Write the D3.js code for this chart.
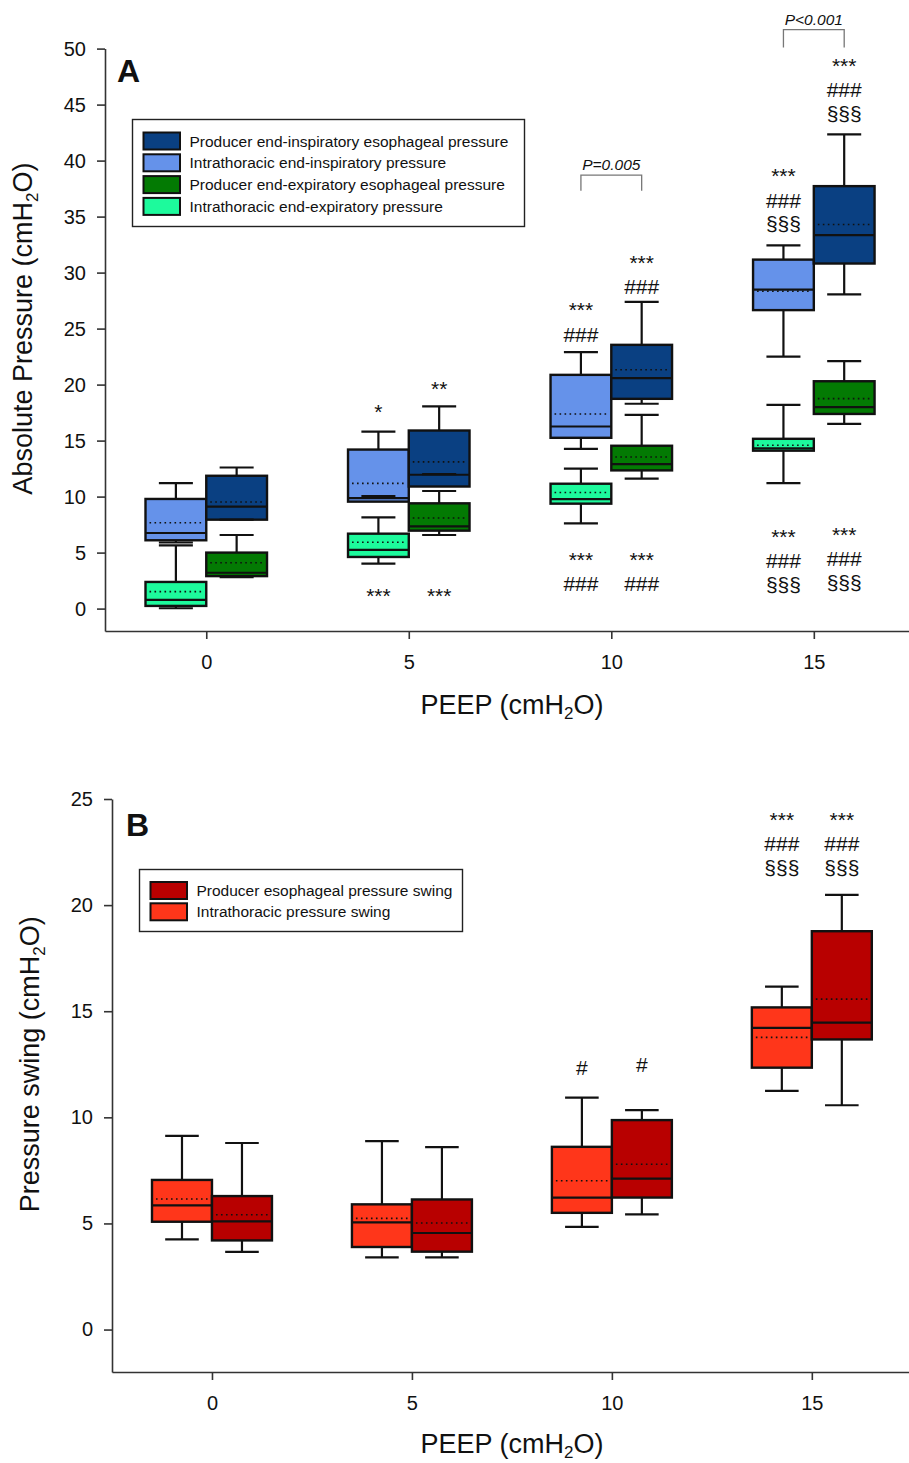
<!DOCTYPE html>
<html>
<head>
<meta charset="utf-8">
<script src="https://cdn.jsdelivr.net/npm/d3@7/dist/d3.min.js"></script>
<style>
body { margin: 0; background: #fff; }
svg text { font-family: "Liberation Sans", Arial, Helvetica, sans-serif; fill: #111; }
</style>
</head>
<body>
<svg id="chart" width="909" height="1463"></svg>
<script>
// values, cmH2O
// each entry: [low whisker, q1, median, q3, high whisker, mean]
var peep = [0, 5, 10, 15];

// panel A
var prodInsp  = [[7.95, 7.94, 9.10, 11.86, 12.60, 9.52],
                 [12.00, 10.90, 11.95, 15.90, 18.05, 13.10],
                 [18.29, 18.73, 20.58, 23.55, 27.39, 21.32],
                 [28.06, 30.81, 33.35, 37.72, 42.34, 34.30]];
var intraInsp = [[5.90, 6.10, 6.75, 9.79, 11.20, 7.67],
                 [10.05, 9.55, 9.87, 14.20, 15.80, 11.18],
                 [14.27, 15.25, 16.26, 20.87, 22.90, 17.37],
                 [22.49, 26.65, 28.48, 31.16, 32.43, 28.34]];
var prodExp   = [[2.80, 2.90, 3.20, 5.00, 6.57, 4.10],
                 [6.57, 6.96, 7.34, 9.40, 10.50, 8.09],
                 [11.60, 12.34, 12.90, 14.54, 17.30, 13.53],
                 [16.49, 17.38, 17.98, 20.30, 22.10, 18.75]];
var intraExp  = [[0.03, 0.24, 0.78, 2.38, 5.65, 1.52],
                 [4.01, 4.61, 5.24, 6.69, 8.15, 5.92],
                 [7.61, 9.37, 9.78, 11.15, 12.49, 10.37],
                 [11.20, 14.10, 14.31, 15.16, 18.19, 14.59]];

// panel B
var prodSwing  = [[3.66, 4.20, 5.10, 6.29, 8.79, 5.41],
                  [3.40, 3.67, 4.55, 6.13, 8.60, 5.02],
                  [5.43, 6.22, 7.11, 9.87, 10.34, 7.79],
                  [10.57, 13.67, 14.46, 18.77, 20.48, 15.57]];
var intraSwing = [[4.25, 5.08, 5.85, 7.05, 9.13, 6.15],
                  [3.40, 3.89, 5.05, 5.90, 8.88, 5.24],
                  [4.84, 5.50, 6.22, 8.61, 10.93, 7.01],
                  [11.25, 12.34, 14.22, 15.18, 16.16, 13.77]];

var namesA = ["Producer end-inspiratory esophageal pressure",
              "Intrathoracic end-inspiratory pressure",
              "Producer end-expiratory esophageal pressure",
              "Intrathoracic end-expiratory pressure"];
var namesB = ["Producer esophageal pressure swing",
              "Intrathoracic pressure swing"];

// significance marks: v is the centre of the first line (axis units), side 0 = intrathoracic box, 1 = producer box
var notesA = [
  {peep: 5,  side: 0, v: 18.05, marks: ["*"]},
  {peep: 5,  side: 1, v: 20.04, marks: ["**"]},
  {peep: 5,  side: 0, v: 1.63,  marks: ["***"]},
  {peep: 5,  side: 1, v: 1.63,  marks: ["***"]},
  {peep: 10, side: 0, v: 27.12, marks: ["***", "###"]},
  {peep: 10, side: 1, v: 31.37, marks: ["***", "###"]},
  {peep: 10, side: 0, v: 4.82,  marks: ["***", "###"]},
  {peep: 10, side: 1, v: 4.82,  marks: ["***", "###"]},
  {peep: 15, side: 0, v: 39.09, marks: ["***", "###", "§§§"]},
  {peep: 15, side: 1, v: 48.96, marks: ["***", "###", "§§§"]},
  {peep: 15, side: 0, v: 6.90,  marks: ["***", "###", "§§§"]},
  {peep: 15, side: 1, v: 7.08,  marks: ["***", "###", "§§§"]}
];
var notesB = [
  {peep: 10, side: 0, v: 12.36, marks: ["#"]},
  {peep: 10, side: 1, v: 12.50, marks: ["#"]},
  {peep: 15, side: 0, v: 24.27, marks: ["***", "###", "§§§"]},
  {peep: 15, side: 1, v: 24.27, marks: ["***", "###", "§§§"]}
];
var bracketsA = [
  {peep: 10, top: 38.7, leg: 37.3, text: "P=0.005"},
  {peep: 15, top: 51.7, leg: 50.1, text: "P<0.001"}
];

var svg = d3.select("#chart");
var boxHalf = 0.75, capHalf = 0.42;

function drawPanel(p) {
  var x = d3.scaleLinear().domain(p.xDomain).range(p.xRange);
  var y = d3.scaleLinear().domain(p.yDomain).range(p.yRange);
  var g = svg.append("g");

  // axes
  var yAxis = g.append("g")
      .attr("transform", "translate(" + p.xRange[0] + ",0)")
      .call(d3.axisLeft(y).tickValues(p.yTicks).tickSize(8).tickSizeOuter(0).tickPadding(11));
  var xAxis = g.append("g")
      .attr("transform", "translate(0," + p.yRange[0] + ")")
      .call(d3.axisBottom(x).tickValues(peep).tickSize(8).tickSizeOuter(0).tickPadding(16));
  [yAxis, xAxis].forEach(function (a) {
    a.select(".domain").attr("stroke", "#333").attr("stroke-width", 1.6);
    a.selectAll(".tick line").attr("stroke", "#333").attr("stroke-width", 1.6);
    a.selectAll(".tick text").style("font-size", "20px").attr("fill", "#111");
  });

  // axis titles with subscript
  var yt = g.append("text")
      .attr("transform", "translate(" + p.yTitleX + "," + y((0 + p.yDomain[1]) / 2) + ") rotate(-90)")
      .attr("text-anchor", "middle").style("font-size", "27px");
  yt.append("tspan").text(p.yTitle + " (cmH");
  yt.append("tspan").text("2").style("font-size", "17px").attr("dy", 6);
  yt.append("tspan").text("O)").attr("dy", -6);

  var xt = g.append("text")
      .attr("x", 512).attr("y", p.yRange[0] + p.xTitleGap)
      .attr("text-anchor", "middle").style("font-size", "27px");
  xt.append("tspan").text("PEEP (cmH");
  xt.append("tspan").text("2").style("font-size", "17px").attr("dy", 5);
  xt.append("tspan").text("O)").attr("dy", -5);

  // panel letter
  g.append("text").attr("x", p.letterX).attr("y", p.letterY)
      .style("font-size", "32px").style("font-weight", "bold").text(p.letter);

  // box plots
  p.series.forEach(function (s) {
    var sg = g.append("g");
    s.stats.forEach(function (d, i) {
      var cx = peep[i] + (s.side ? boxHalf : -boxHalf);
      var x0 = x(cx - boxHalf), x1 = x(cx + boxHalf), xc = x(cx);
      var c0 = x(cx - capHalf), c1 = x(cx + capHalf);
      // whisker stems
      sg.append("line").attr("x1", xc).attr("x2", xc).attr("y1", y(d[3])).attr("y2", y(d[4]))
          .attr("stroke", "#111").attr("stroke-width", 2.2);
      sg.append("line").attr("x1", xc).attr("x2", xc).attr("y1", y(d[1])).attr("y2", y(d[0]))
          .attr("stroke", "#111").attr("stroke-width", 2.2);
      // box
      sg.append("rect").attr("x", x0).attr("width", x1 - x0)
          .attr("y", y(d[3])).attr("height", y(d[1]) - y(d[3]))
          .attr("fill", s.color).attr("stroke", "#111").attr("stroke-width", 2.4);
      // median
      sg.append("line").attr("x1", x0).attr("x2", x1).attr("y1", y(d[2])).attr("y2", y(d[2]))
          .attr("stroke", "#111").attr("stroke-width", 2.2);
      // mean (dotted)
      sg.append("line").attr("x1", x0 + 4).attr("x2", x1 - 4).attr("y1", y(d[5])).attr("y2", y(d[5]))
          .attr("stroke", "#111").attr("stroke-width", 1.6).attr("stroke-dasharray", "1.6,3.4");
      // caps
      [d[0], d[4]].forEach(function (v) {
        sg.append("line").attr("x1", c0).attr("x2", c1).attr("y1", y(v)).attr("y2", y(v))
            .attr("stroke", "#111").attr("stroke-width", 2.2);
      });
    });
  });

  // significance marks
  var fs = 21;
  var centreShift = {"*": 0.585, "#": 0.35, "§": 0.27};
  var lineStep = {"*": 29.5, "#": 25.5, "§": 25.5};
  p.notes.forEach(function (n) {
    var cx = x(n.peep + (n.side ? boxHalf : -boxHalf));
    var cy = y(n.v);
    n.marks.forEach(function (m) {
      var ch = m.charAt(0);
      g.append("text").attr("x", cx).attr("y", cy + centreShift[ch] * fs)
          .attr("text-anchor", "middle").style("font-size", fs + "px").text(m);
      cy += lineStep[ch];
    });
  });

  // comparison brackets
  (p.brackets || []).forEach(function (b) {
    var xa = x(b.peep - boxHalf), xb = x(b.peep + boxHalf);
    g.append("path")
        .attr("d", "M" + xa + "," + y(b.leg) + "V" + y(b.top) + "H" + xb + "V" + y(b.leg))
        .attr("fill", "none").attr("stroke", "#777").attr("stroke-width", 1.3);
    g.append("text").attr("x", (xa + xb) / 2).attr("y", y(b.top) - 5)
        .attr("text-anchor", "middle").style("font-size", "15.5px").style("font-style", "italic")
        .text(b.text);
  });

  // legend
  var L = p.legend;
  var lg = g.append("g");
  lg.append("rect").attr("x", L.x).attr("y", L.y).attr("width", L.w).attr("height", L.h)
      .attr("fill", "#fff").attr("stroke", "#222").attr("stroke-width", 1.4);
  p.legendOrder.forEach(function (s, i) {
    var ry = L.y + L.pad + i * L.step;
    lg.append("rect").attr("x", L.x + 11).attr("y", ry).attr("width", 36.5).attr("height", 17)
        .attr("fill", s.color).attr("stroke", "#111").attr("stroke-width", 2);
    lg.append("text").attr("x", L.x + 57).attr("y", ry + 8.5 + 5.5)
        .style("font-size", "15.5px").text(s.name);
  });
}

// panel A
var sProdInsp  = {name: namesA[0], stats: prodInsp,  side: 1, color: "#0a4082"};
var sIntraInsp = {name: namesA[1], stats: intraInsp, side: 0, color: "#6592ea"};
var sProdExp   = {name: namesA[2], stats: prodExp,   side: 1, color: "#037a03"};
var sIntraExp  = {name: namesA[3], stats: intraExp,  side: 0, color: "#1dfa9c"};

drawPanel({
  xDomain: [-2.5, 17.35], xRange: [105, 909],
  yDomain: [-2, 50], yRange: [631, 48.6], yTicks: d3.range(0, 51, 5),
  yTitle: "Absolute Pressure", yTitleX: 32, xTitleGap: 83,
  letter: "A", letterX: 117, letterY: 82,
  series: [sIntraExp, sProdExp, sIntraInsp, sProdInsp],
  legendOrder: [sProdInsp, sIntraInsp, sProdExp, sIntraExp],
  legend: {x: 132.5, y: 119.5, w: 392, h: 107, pad: 13, step: 21.8},
  notes: notesA, brackets: bracketsA
});

// panel B
var sProdSwing  = {name: namesB[0], stats: prodSwing,  side: 1, color: "#b80000"};
var sIntraSwing = {name: namesB[1], stats: intraSwing, side: 0, color: "#ff361a"};

drawPanel({
  xDomain: [-2.5, 17.43], xRange: [112, 909],
  yDomain: [-2, 25], yRange: [1372, 799], yTicks: d3.range(0, 26, 5),
  yTitle: "Pressure swing", yTitleX: 39, xTitleGap: 81,
  letter: "B", letterX: 126, letterY: 836,
  series: [sIntraSwing, sProdSwing],
  legendOrder: [sProdSwing, sIntraSwing],
  legend: {x: 139.5, y: 869.5, w: 323, h: 62, pad: 12.5, step: 21.3},
  notes: notesB
});
</script>
</body>
</html>
